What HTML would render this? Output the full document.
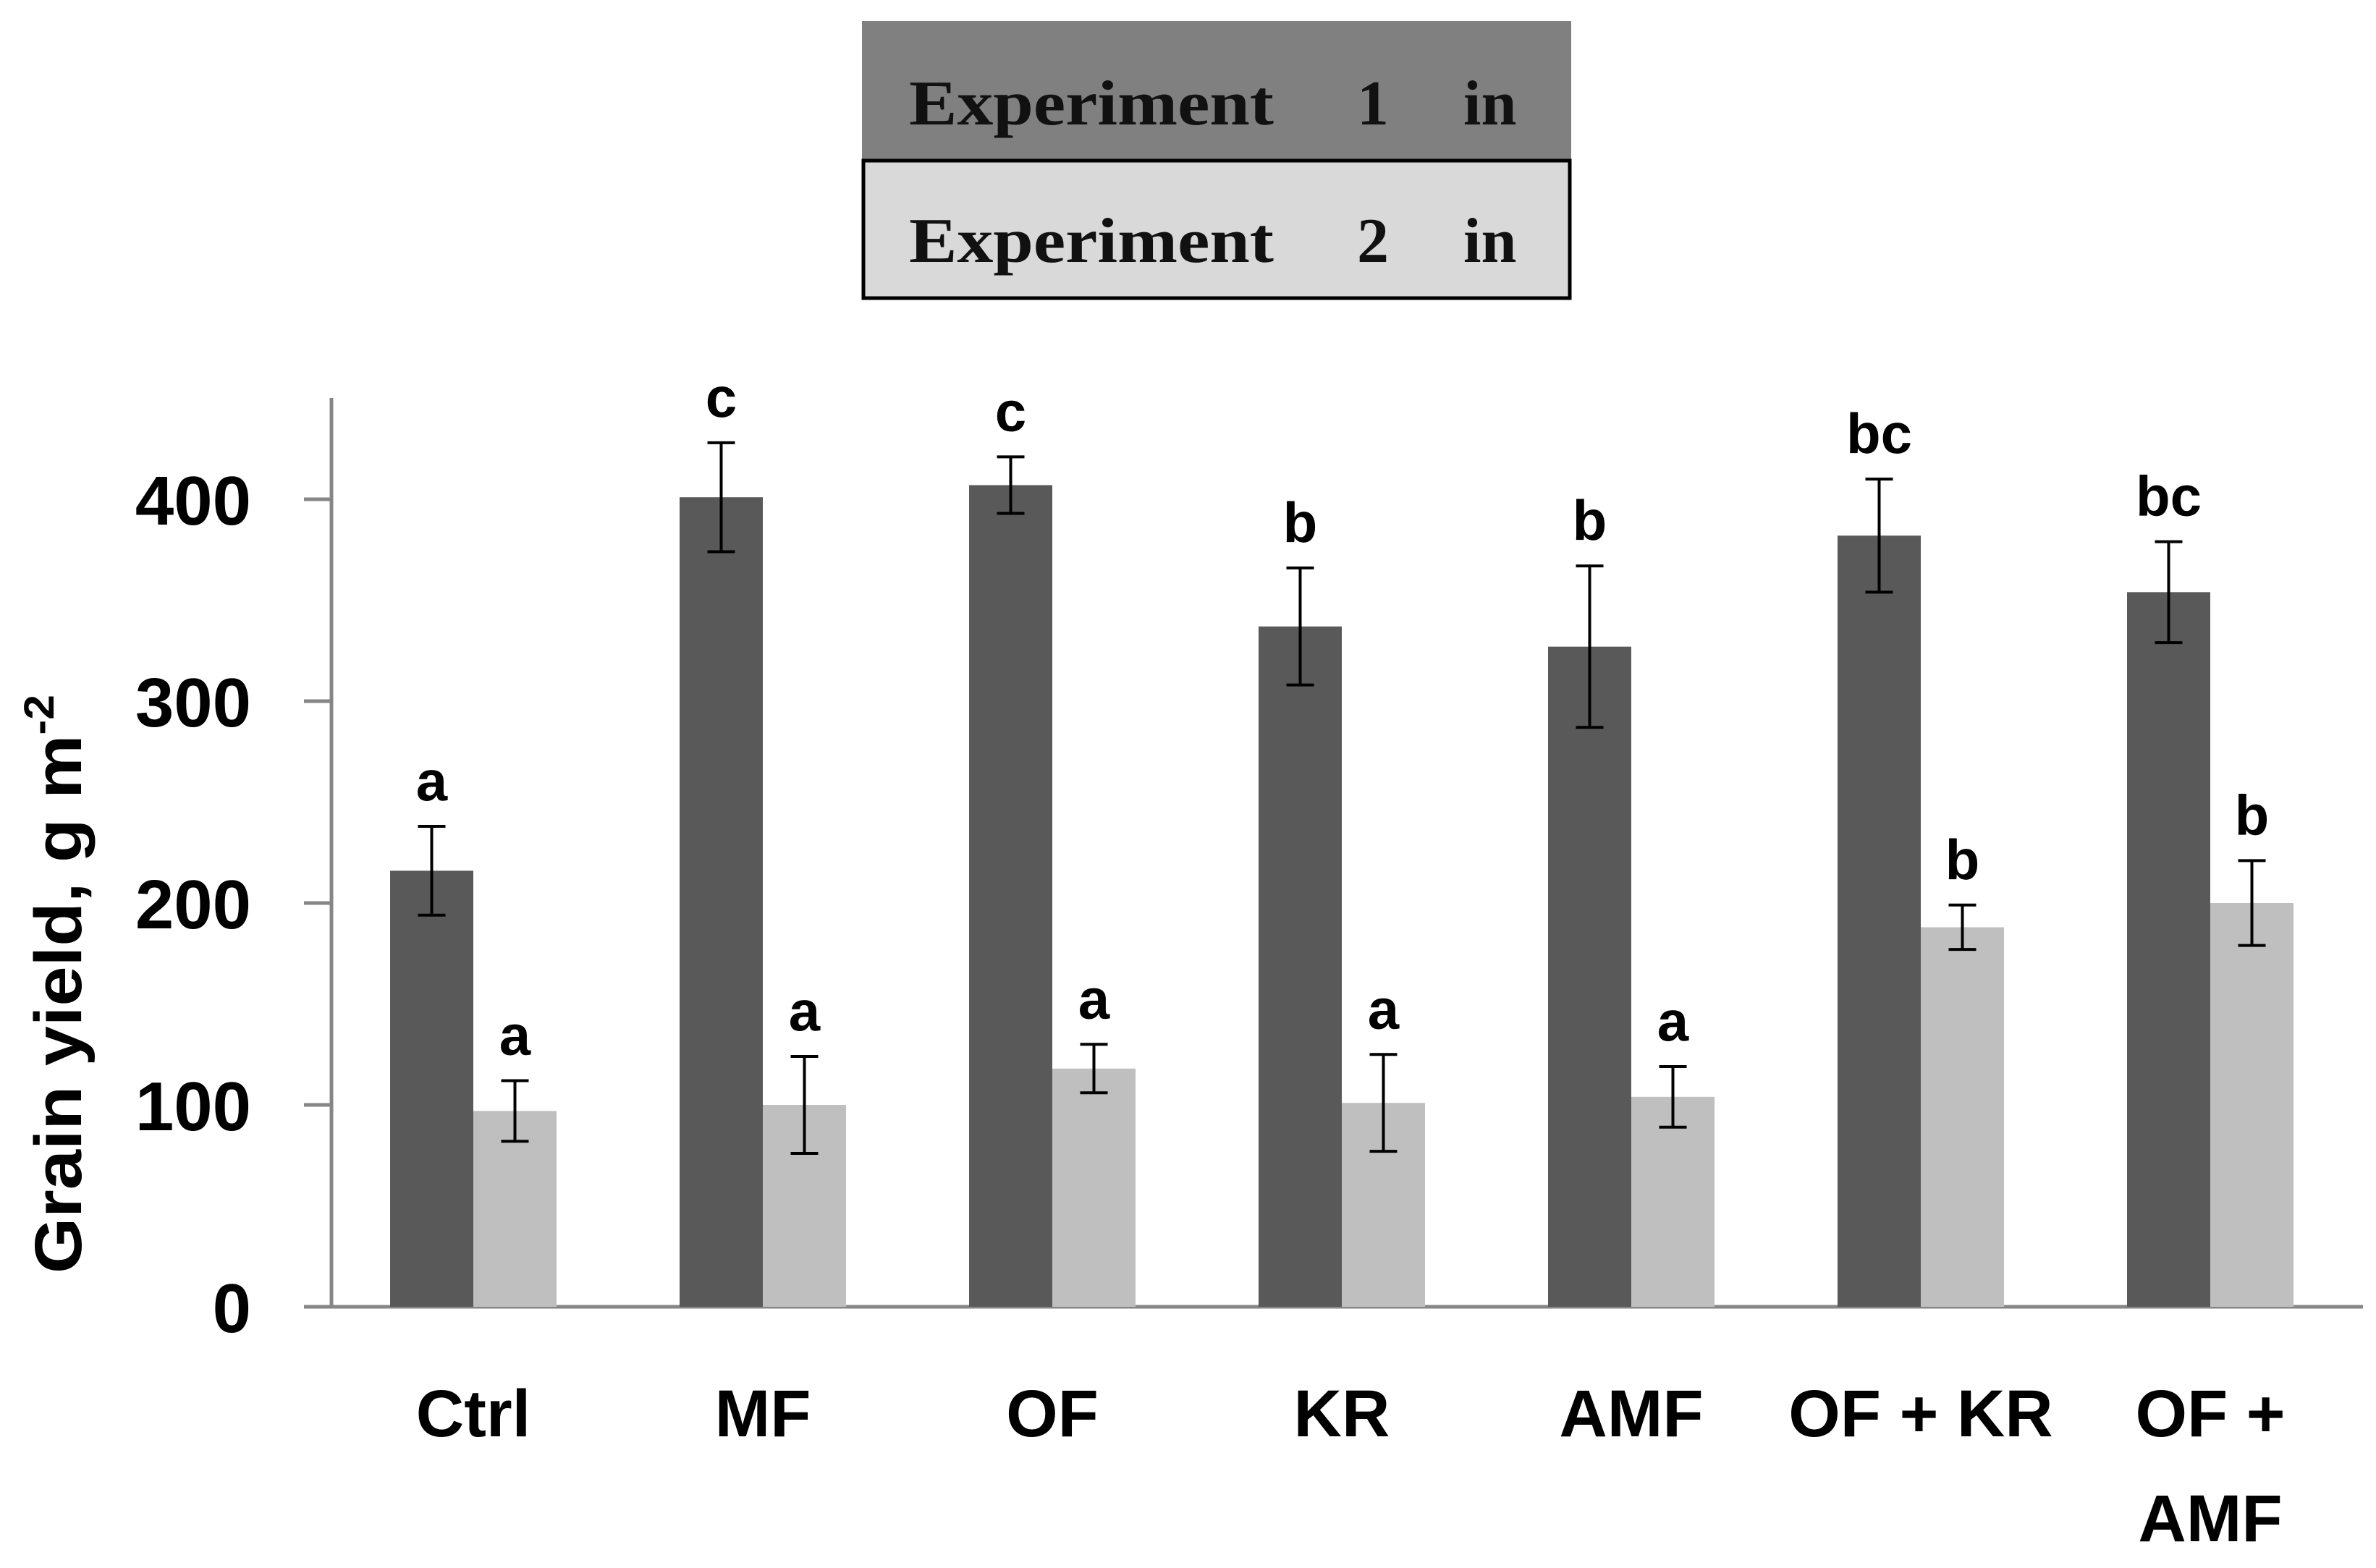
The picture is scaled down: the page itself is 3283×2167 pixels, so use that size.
<!DOCTYPE html>
<html><head><meta charset="utf-8"><style>
html,body{margin:0;padding:0;background:#fff}
svg{display:block}
</style></head><body>
<svg id="chart" width="3283" height="2167" viewBox="0 0 3283 2167" xmlns="http://www.w3.org/2000/svg">
<g>
  <rect x="1191" y="29" width="980" height="191" fill="#808080"/>
  <text x="1256" y="172" font-family="Liberation Serif, serif" font-weight="bold" font-size="88" fill="#111" textLength="504" lengthAdjust="spacingAndGlyphs">Experiment</text>
  <text x="1875" y="172" font-family="Liberation Serif, serif" font-weight="bold" font-size="88" fill="#111">1</text>
  <text x="2022" y="172" font-family="Liberation Serif, serif" font-weight="bold" font-size="88" fill="#111">in</text>
  <rect x="1193" y="222" width="976" height="190" fill="#d9d9d9" stroke="#000" stroke-width="5"/>
  <text x="1256" y="362" font-family="Liberation Serif, serif" font-weight="bold" font-size="88" fill="#111" textLength="504" lengthAdjust="spacingAndGlyphs">Experiment</text>
  <text x="1875" y="362" font-family="Liberation Serif, serif" font-weight="bold" font-size="88" fill="#111">2</text>
  <text x="2022" y="362" font-family="Liberation Serif, serif" font-weight="bold" font-size="88" fill="#111">in</text>
</g>
<text transform="translate(112,1360) rotate(-90)" text-anchor="middle" font-family="Liberation Sans, sans-serif" font-weight="bold" font-size="92" fill="#000" textLength="800" lengthAdjust="spacingAndGlyphs">Grain yield, g m<tspan font-size="58" dy="-38">-2</tspan></text>
<g id="plot"></g>
</svg>
<script>
const categories = ["Ctrl","MF","OF","KR","AMF","OF + KR","OF + AMF"];
const exp1 = [216,401,407,337,327,382,354];
const exp1Err = [22,27,14,29,40,28,25];
const exp2 = [97,100,118,101,104,188,200];
const exp2Err = [15,24,12,24,15,11,21];
const exp1Letters = ["a","c","c","b","b","bc","bc"];
const exp2Letters = ["a","a","a","a","a","b","b"];
const yTicks = [0,100,200,300,400];

const NS="http://www.w3.org/2000/svg";
const plot=document.getElementById('plot');
const x0=458, baseY=1806, pxPer=2.79, groupW=400, firstCenter=654, barW=115;
const yS=v=>baseY-v*pxPer;
const xC=i=>firstCenter+i*groupW;
function mk(tag,attrs,parent){const e=document.createElementNS(NS,tag);for(const k in attrs)e.setAttribute(k,attrs[k]);(parent||plot).appendChild(e);return e;}

let ax=mk('line',{x1:x0,y1:550,x2:x0,y2:baseY,stroke:'#868686','stroke-width':5});


let bx=mk('line',{x1:420,y1:baseY,x2:3265,y2:baseY,stroke:'#868686','stroke-width':5});


yTicks.forEach(t=>{
  const tk=mk('line',{x1:420,y1:yS(t),x2:x0,y2:yS(t),stroke:'#868686','stroke-width':5});
  
  
  const lb=mk('text',{x:347,y:yS(t)+35,'text-anchor':'end','font-family':'Liberation Sans, sans-serif','font-weight':'bold','font-size':96,fill:'#000'});
  lb.textContent=t;
  
  
});

function bar(i,v,err,letter,left,fill,series){
  const x=left?xC(i)-barW:xC(i);
  const r=mk('rect',{x:x,y:yS(v),width:barW,height:baseY-yS(v),fill:fill});
  
  
  const cx=x+barW/2, t=yS(v+err), b=yS(v-err);
  const g=mk('g',{stroke:'#000','stroke-width':4});
  
  
  mk('line',{x1:cx,y1:t,x2:cx,y2:b},g);
  mk('line',{x1:cx-19,y1:t,x2:cx+19,y2:t},g);
  mk('line',{x1:cx-19,y1:b,x2:cx+19,y2:b},g);
  const l=mk('text',{x:cx,y:t-36,'text-anchor':'middle','font-family':'Liberation Sans, sans-serif','font-weight':'bold','font-size':78,fill:'#000'});
  l.textContent=letter;
  
  
}
categories.forEach((c,i)=>{
  bar(i,exp1[i],exp1Err[i],exp1Letters[i],true,'#595959','exp1');
  bar(i,exp2[i],exp2Err[i],exp2Letters[i],false,'#bfbfbf','exp2');
  const parts=c==="OF + AMF"?["OF +","AMF"]:[c];
  parts.forEach((p,k)=>{
    const t=mk('text',{x:xC(i),y:1985+k*145,'text-anchor':'middle','font-family':'Liberation Sans, sans-serif','font-weight':'bold','font-size':92,fill:'#000'});
    t.textContent=p;
    
    
  });
});
</script>
</body></html>
